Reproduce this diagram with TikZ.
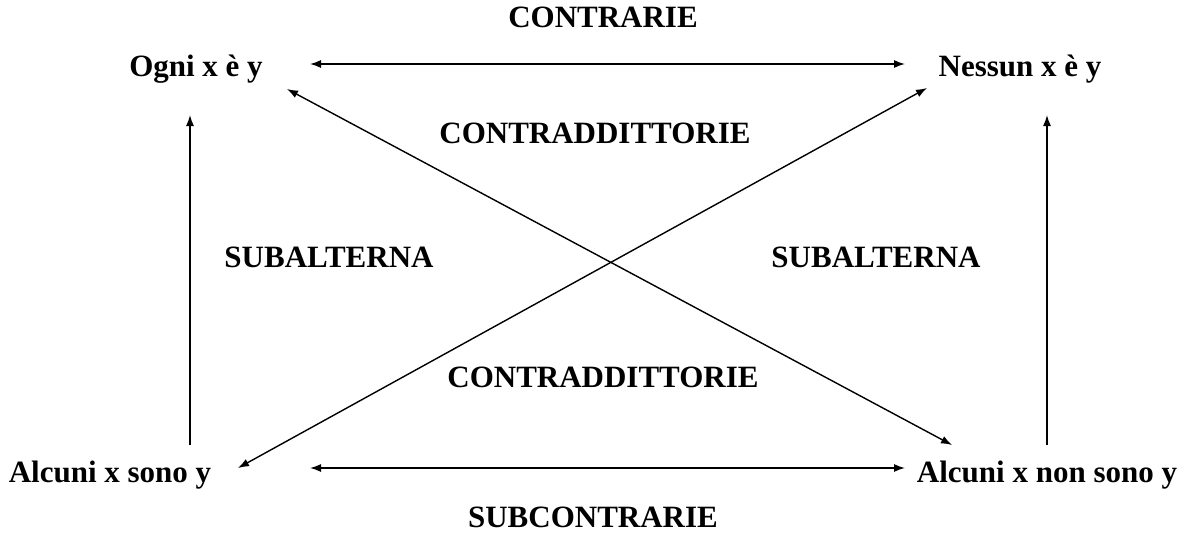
\documentclass[tikz,border=0pt]{standalone}
\usepackage{fontspec}
\setmainfont{Liberation Serif}
\usetikzlibrary{arrows.meta}
\begin{document}
\begin{tikzpicture}[x=1pt,y=-1pt,
  lbl/.style={anchor=base,inner sep=0pt,font=\fontsize{31}{37}\selectfont\bfseries},
  arr/.style={line width=1.4pt,-{Latex[length=11pt,width=8pt]}},
  darr/.style={line width=1.4pt,{Latex[length=11pt,width=8pt]}-{Latex[length=11pt,width=8pt]}}]
\useasboundingbox (0,0) rectangle (1184,535);
\node[lbl] (contr) at (603,28) {CONTRARIE};
\node[lbl] (ogni) at (196,77) {Ogni x è y};
\node[lbl] (nessun) at (1020,77) {Nessun x è y};
\node[lbl] (cd1) at (595,143) {CONTRADDITTORIE};
\node[lbl] (subL) at (329,267) {SUBALTERNA};
\node[lbl] (subR) at (876,267) {SUBALTERNA};
\node[lbl] (cd2) at (603,387) {CONTRADDITTORIE};
\node[lbl] (alcuni) at (110,482) {Alcuni x sono y};
\node[lbl] (alcnon) at (1047,482) {Alcuni x non sono y};
\node[lbl] (subc) at (593,527) {SUBCONTRARIE};
% connectors
\draw[darr] ([shift={(114,-13)}]ogni.base) -- ([shift={(-115,-13)}]nessun.base);
\draw[darr] ([shift={(200,-14)}]alcuni.base) -- ([shift={(-142,-14)}]alcnon.base);
\draw[darr] ([shift={(91,12)}]ogni.base) -- ([shift={(-95,-37)}]alcnon.base);
\draw[darr] ([shift={(-93,11)}]nessun.base) -- ([shift={(128,-14)}]alcuni.base);
\draw[arr] ([shift={(80,-37)}]alcuni.base) -- ([shift={(-6,38)}]ogni.base);
\draw[arr] ([shift={(0,-37)}]alcnon.base) -- ([shift={(27,38)}]nessun.base);
\end{tikzpicture}
\end{document}
